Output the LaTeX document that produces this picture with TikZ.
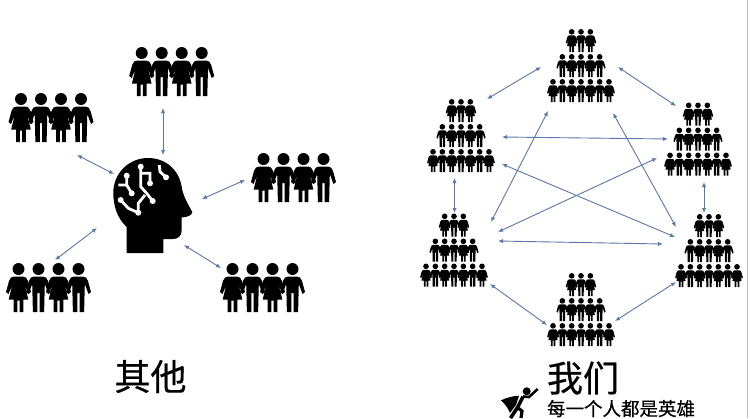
\documentclass[tikz,border=0pt]{standalone}
\usepackage{fontspec}
\usepackage{tikz}
\usetikzlibrary{arrows.meta}
\newfontfamily\cjk[FakeBold=0.5]{Noto Sans CJK SC}
\definecolor{linkblue}{HTML}{5B77A8}
\definecolor{edgegray}{HTML}{BDBDBD}
\tikzset{
  linkarrow/.style={draw=linkblue, line width=0.9pt,
                    {Latex[length=5pt,width=4.2pt]}-{Latex[length=5pt,width=4.2pt]}},
  crowdbox/.style={minimum width=84pt, minimum height=49pt, inner sep=0pt},
  pyramidbox/.style={minimum width=68pt, minimum height=74pt, inner sep=0pt},
  manfig/.pic={
    \fill (0,6) circle[radius=6];
    \fill (-4.5,13.5) -- (4.5,13.5) .. controls (7,13.5) and (8.5,15) .. (9.5,18) -- (12.5,29) -- (10,31)
      -- (6.3,21) -- (5.6,49) -- (1.1,49) -- (1.1,30) -- (-1.1,30) -- (-1.1,49) -- (-5.6,49)
      -- (-6.3,21) -- (-10,31) -- (-12.5,29) -- (-9.5,18)
      .. controls (-8.5,15) and (-7,13.5) .. (-4.5,13.5) -- cycle;
  },
  womanfig/.pic={
    \fill (0,6) circle[radius=6];
    \fill (-4.5,13.5) -- (4.5,13.5) .. controls (7,13.5) and (8.5,15) .. (9.5,18) -- (12.5,29) -- (10,31)
      -- (6.3,22) -- (9.8,36.5) -- (4.8,36.5) -- (4.8,49) -- (1.1,49) -- (1.1,37.5) -- (-1.1,37.5) -- (-1.1,49)
      -- (-4.8,49) -- (-4.8,36.5) -- (-9.8,36.5) -- (-6.3,22) -- (-10,31) -- (-12.5,29) -- (-9.5,18)
      .. controls (-8.5,15) and (-7,13.5) .. (-4.5,13.5) -- cycle;
  },
  crowdfig/.pic={
    \foreach \ix/\kind in {-30/womanfig,-10/manfig,10/womanfig,30/manfig}
      \pic at (\ix,-24.5) {\kind};
  },
  pyramidfig/.pic={
    \foreach \ix/\kind in {-1/womanfig,0/manfig,1/womanfig}
      \pic[scale=0.47] at (9.33*\ix,-37) {\kind};
    \foreach \ix/\kind in {-2/manfig,-1/womanfig,0/manfig,1/womanfig,2/manfig}
      \pic[scale=0.47] at (9.33*\ix,-12) {\kind};
    \foreach \ix/\kind in {-3/womanfig,-2/manfig,-1/womanfig,0/manfig,1/womanfig,2/manfig,3/womanfig}
      \pic[scale=0.47] at (9.33*\ix,13) {\kind};
  },
}

\begin{document}
\begin{tikzpicture}[x=1pt, y=-1pt]
    \useasboundingbox (0,0) rectangle (751,418);
    \draw[edgegray, line width=1pt] (747.5,0) -- (747.5,418);

    % left side
    \node[minimum width=79pt, minimum height=95pt, inner sep=0pt] (headicon) at (152.5,205.5) {};
    \fill (126.7,253) -- (126.7,227) .. controls (118,219) and (113.3,207) .. (113.3,193)
      .. controls (113.3,173) and (129,158) .. (148,158) .. controls (166,158) and (179,170) .. (181.7,187)
      .. controls (183,196) and (188,204) .. (192.3,212) .. controls (192.3,215) and (188,217) .. (181.7,217.5)
      -- (181.7,230) .. controls (181.7,236) and (178,239) .. (173,239) -- (163.3,239) -- (163.3,253) -- cycle;
    \draw[white, line width=2.8pt]
      (140.7,166.7) -- (140.7,186.7) -- (146.7,193.3) -- (152.7,201)
      (140.7,173.3) -- (150,173.3) -- (150,183.3)
      (145,195) -- (138.3,203.3) -- (138.3,212.7)
      (120.7,200) -- (128.3,208.3) -- (138.3,212.7)
      (126.7,175.7) -- (126.7,185) -- (118.3,185)
      (126.7,185) -- (131.7,193.3)
      (159.3,165) -- (160,171.7) -- (166,177.3);
    \foreach \dotx/\doty in {140.7/166.7,150/183.3,138.3/212.7,120.7/200,126.7/175.7,131.7/193.3,166/177.3,152.7/201}
      \fill[white] (\dotx,\doty) circle[radius=3];

    \foreach \name/\cx/\cy in {crowdTop/171.7/71.5, crowdLeft/51/117.5, crowdRight/293.5/177.5,
                               crowdLowL/48.5/287.5, crowdLowR/262.5/287.5} {
      \node[crowdbox] (\name) at (\cx,\cy) {};
      \pic at (\cx,\cy) {crowdfig};
    }

    \foreach \a/\ax/\ay/\b/\bx/\by in {
      crowdTop/-8.7/36.5/headicon/10.5/-50.5,
      crowdLeft/26/37.5/headicon/-38.5/-31.5,
      crowdLowL/6.5/-27.5/headicon/-55.5/22.5,
      crowdRight/-48.5/2.5/headicon/49.5/-6.5,
      crowdLowR/-41.5/-19.5/headicon/31.5/39.5}
      \draw[linkarrow] ([shift={(\ax,\ay)}]\a.center) -- ([shift={(\bx,\by)}]\b.center);

    % right side
    \foreach \name/\cx/\cy in {pyrTop/581/66, pyrL/461/136, pyrLL/454/250.5,
                               pyrR/698/139.5, pyrLR/709/251, pyrBot/581/310} {
      \node[pyramidbox] (\name) at (\cx,\cy) {};
      \pic at (\cx,\cy) {pyramidfig};
    }

    \foreach \a/\ax/\ay/\b/\bx/\by in {
      pyrTop/-40/1/pyrL/26/-37,
      pyrTop/37/1/pyrR/-22/-33.5,
      pyrL/-6.5/42/pyrLL/0.5/-37.5,
      pyrR/6/42.5/pyrLR/-5/-38,
      pyrLL/36/33.5/pyrBot/-34/15,
      pyrLR/-33/31/pyrBot/34/11,
      pyrL/41/1/pyrR/-30/-0.5,
      pyrL/41/28/pyrLR/-34/-14,
      pyrLL/37/-28.5/pyrTop/-33/45,
      pyrLL/44/-18.5/pyrR/-41/18.5,
      pyrLL/44/-9.5/pyrLR/-46/-7,
      pyrTop/32/47/pyrLR/-33/-24}
      \draw[linkarrow] ([shift={(\ax,\ay)}]\a.center) -- ([shift={(\bx,\by)}]\b.center);

    % captions
    \node[font=\cjk\fontsize{36}{36}\selectfont, inner sep=0pt] (othersLabel) at (150.5,376.5) {其他};
    \node[font=\cjk\fontsize{36}{36}\selectfont, inner sep=0pt] (oursLabel) at (583,378) {我们};
    \node[font=\cjk\fontsize{18.5}{18.5}\selectfont, inner sep=0pt] (heroLabel) at (621,408.5) {每一个人都是英雄};

    % hero
    \fill (526.7,391.3) circle[radius=4];
    \fill (519,395.7) .. controls (512,396) and (506,398) .. (501,400.3) .. controls (505,404) and (508,408) .. (510,413)
      .. controls (512,410) and (514,408) .. (516,405) -- cycle;
    \draw[line width=3.6pt] (523,396.5) -- (517.5,407.5) -- (510.5,418);
    \draw[line width=3.2pt] (517.5,407.5) -- (522,411) -- (521,418);
    \draw[line width=2.6pt] (523,396.5) -- (529,397) -- (537.7,389);
\end{tikzpicture}
\end{document}
